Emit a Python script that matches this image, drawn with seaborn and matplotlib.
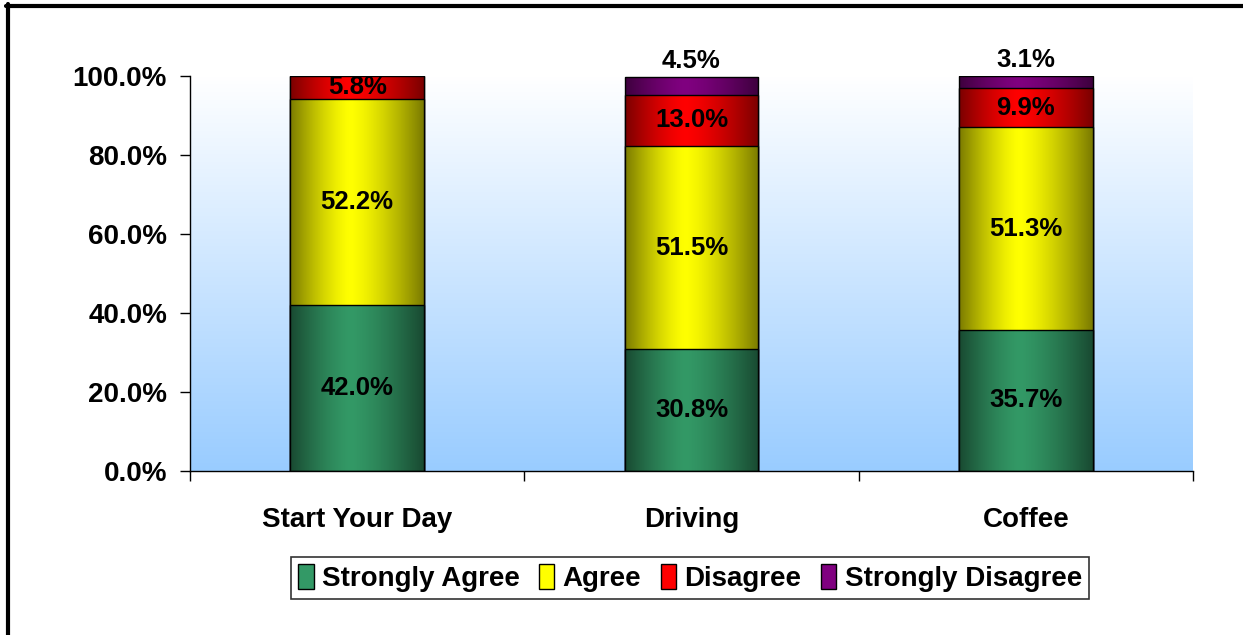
import numpy as np
import pandas as pd
import matplotlib
matplotlib.use("Agg")
import matplotlib.pyplot as plt
import seaborn as sns
from matplotlib.patches import Patch
from matplotlib.lines import Line2D
from matplotlib.colors import to_rgb

# ---- data ----
categories = ["Start Your Day", "Driving", "Coffee"]
series = ["Strongly Agree", "Agree", "Disagree", "Strongly Disagree"]
strongly_agree = [42.0, 30.8, 35.7]
agree = [52.2, 51.5, 51.3]
disagree = [5.8, 13.0, 9.9]
strongly_disagree = [0.0, 4.5, 3.1]
colors = ["#339966", "#FFFF00", "#FF0000", "#800080"]
yticks = [0, 20, 40, 60, 80, 100]

sns.set_theme(style="white")
plt.rcParams['font.family'] = ['Liberation Sans', 'DejaVu Sans']
plt.rcParams['font.weight'] = 'bold'
plt.rcParams['text.color'] = 'black'
plt.rcParams['xtick.color'] = 'black'
plt.rcParams['ytick.color'] = 'black'
plt.rcParams['axes.labelcolor'] = 'black'

W, H = 1243, 635
fig = plt.figure(figsize=(W / 100, H / 100), dpi=100)
fig.patch.set_facecolor("white")
ax = fig.add_axes([190 / W, 1 - 471 / H, (1193 - 190) / W, (471 - 76) / H])

values = [strongly_agree, agree, disagree, strongly_disagree]
df = pd.DataFrame({"category": categories})
cum = np.zeros(len(categories))
for name, v in zip(series, values):
    cum = cum + np.array(v)
    df[name] = cum.copy()

# background gradient (white at top -> light blue at bottom)
top = np.array([1.0, 1.0, 1.0])
bot = np.array([153, 204, 255]) / 255
t = np.linspace(0, 1, 256)[:, None, None]
bg = top * (1 - t) + bot * t
ax.imshow(bg, extent=[0, 1, 0, 1], transform=ax.transAxes, aspect='auto',
          zorder=0, interpolation='bilinear')
ax.set_facecolor("none")


def gradient_row(color, n=200, c=0.45):
    base = np.array(to_rgb(color))
    x = np.linspace(0, 1, n)
    d = np.where(x < c, (c - x) / c, (x - c) / (1 - c))
    f = 1 - 0.52 * d ** 1.4
    return (base[None, :] * f[:, None])[None, :, :]


# draw stacked bars as overlapping cumulative bars (top layer first)
for k in range(len(series) - 1, -1, -1):
    name = series[k]
    before = len(ax.patches)
    z = 2 + (len(series) - 1 - k)
    sns.barplot(data=df, x="category", y=name, order=categories, color=colors[k],
                width=0.4, edgecolor="black", linewidth=1.0, ax=ax, zorder=z,
                saturation=1)
    for p in ax.patches[before:]:
        x0, y0 = p.get_x(), p.get_y()
        w, h = p.get_width(), p.get_height()
        if h <= 0:
            continue
        im = ax.imshow(gradient_row(colors[k]), extent=[x0, x0 + w, y0, y0 + h],
                       aspect='auto', zorder=z - 0.1, interpolation='bilinear')
        im.set_clip_path(p)
        p.set_facecolor("none")

ax.set_xlim(-0.5, len(categories) - 0.5)
ax.set_ylim(0, 100)

# labels
for i in range(len(categories)):
    base = 0.0
    for k, v in enumerate(values):
        val = v[i]
        if val > 0:
            if k == len(values) - 1:
                ax.text(i, base + val + 0.9, f"{val:.1f}%", ha="center", va="bottom",
                        fontsize=18.5, fontweight="bold", color="black", zorder=20)
            else:
                ax.text(i, base + val / 2, f"{val:.1f}%", ha="center", va="center",
                        fontsize=18.5, fontweight="bold", color="black", zorder=20)
        base += val

# axes styling
for s in ["top", "right"]:
    ax.spines[s].set_visible(False)
for s in ["left", "bottom"]:
    ax.spines[s].set_color("black")
    ax.spines[s].set_linewidth(1.0)
    ax.spines[s].set_zorder(30)

ax.set_yticks(yticks)
ax.set_yticklabels([f"{v:.1f}%" for v in yticks])
ax.tick_params(axis="y", direction="out", length=7, width=1, color="black",
               labelsize=20, pad=9.5, left=True, labelcolor="black")
ax.set_xticks(range(len(categories)))
ax.set_xticklabels(categories)
ax.tick_params(axis="x", which="major", length=0, labelsize=20, pad=26,
               labelcolor="black")
ax.set_xticks([-0.5, 0.5, 1.5, 2.5], minor=True)
ax.tick_params(axis="x", which="minor", direction="out", length=7, width=1,
               color="black", bottom=True)
for lab in ax.get_xticklabels() + ax.get_yticklabels():
    lab.set_fontweight("bold")
ax.set_xlabel("")
ax.set_ylabel("")
ax.grid(False)

# legend
handles = [Patch(facecolor=c, edgecolor="black", linewidth=1.0) for c in colors]
leg = fig.legend(handles, series, loc="center", bbox_to_anchor=(690 / W, 1 - 578 / H),
                 ncol=4, frameon=True, fancybox=False, edgecolor="black",
                 prop={"size": 20, "weight": "bold"}, handlelength=0.55,
                 handleheight=1.0, handletextpad=0.3, columnspacing=0.7,
                 borderpad=0.25, borderaxespad=0)
leg.get_frame().set_linewidth(1.2)
for txt in leg.get_texts():
    txt.set_color("black")

# outer chart border (top and left visible)
fig.add_artist(Line2D([6 / W, 1.0], [1 - 5.5 / H, 1 - 5.5 / H], transform=fig.transFigure,
                      color="black", linewidth=3.0))
fig.add_artist(Line2D([8 / W, 8 / W], [0, 1 - 4 / H], transform=fig.transFigure,
                      color="black", linewidth=3.0))

fig.savefig("out.png", dpi=100)
